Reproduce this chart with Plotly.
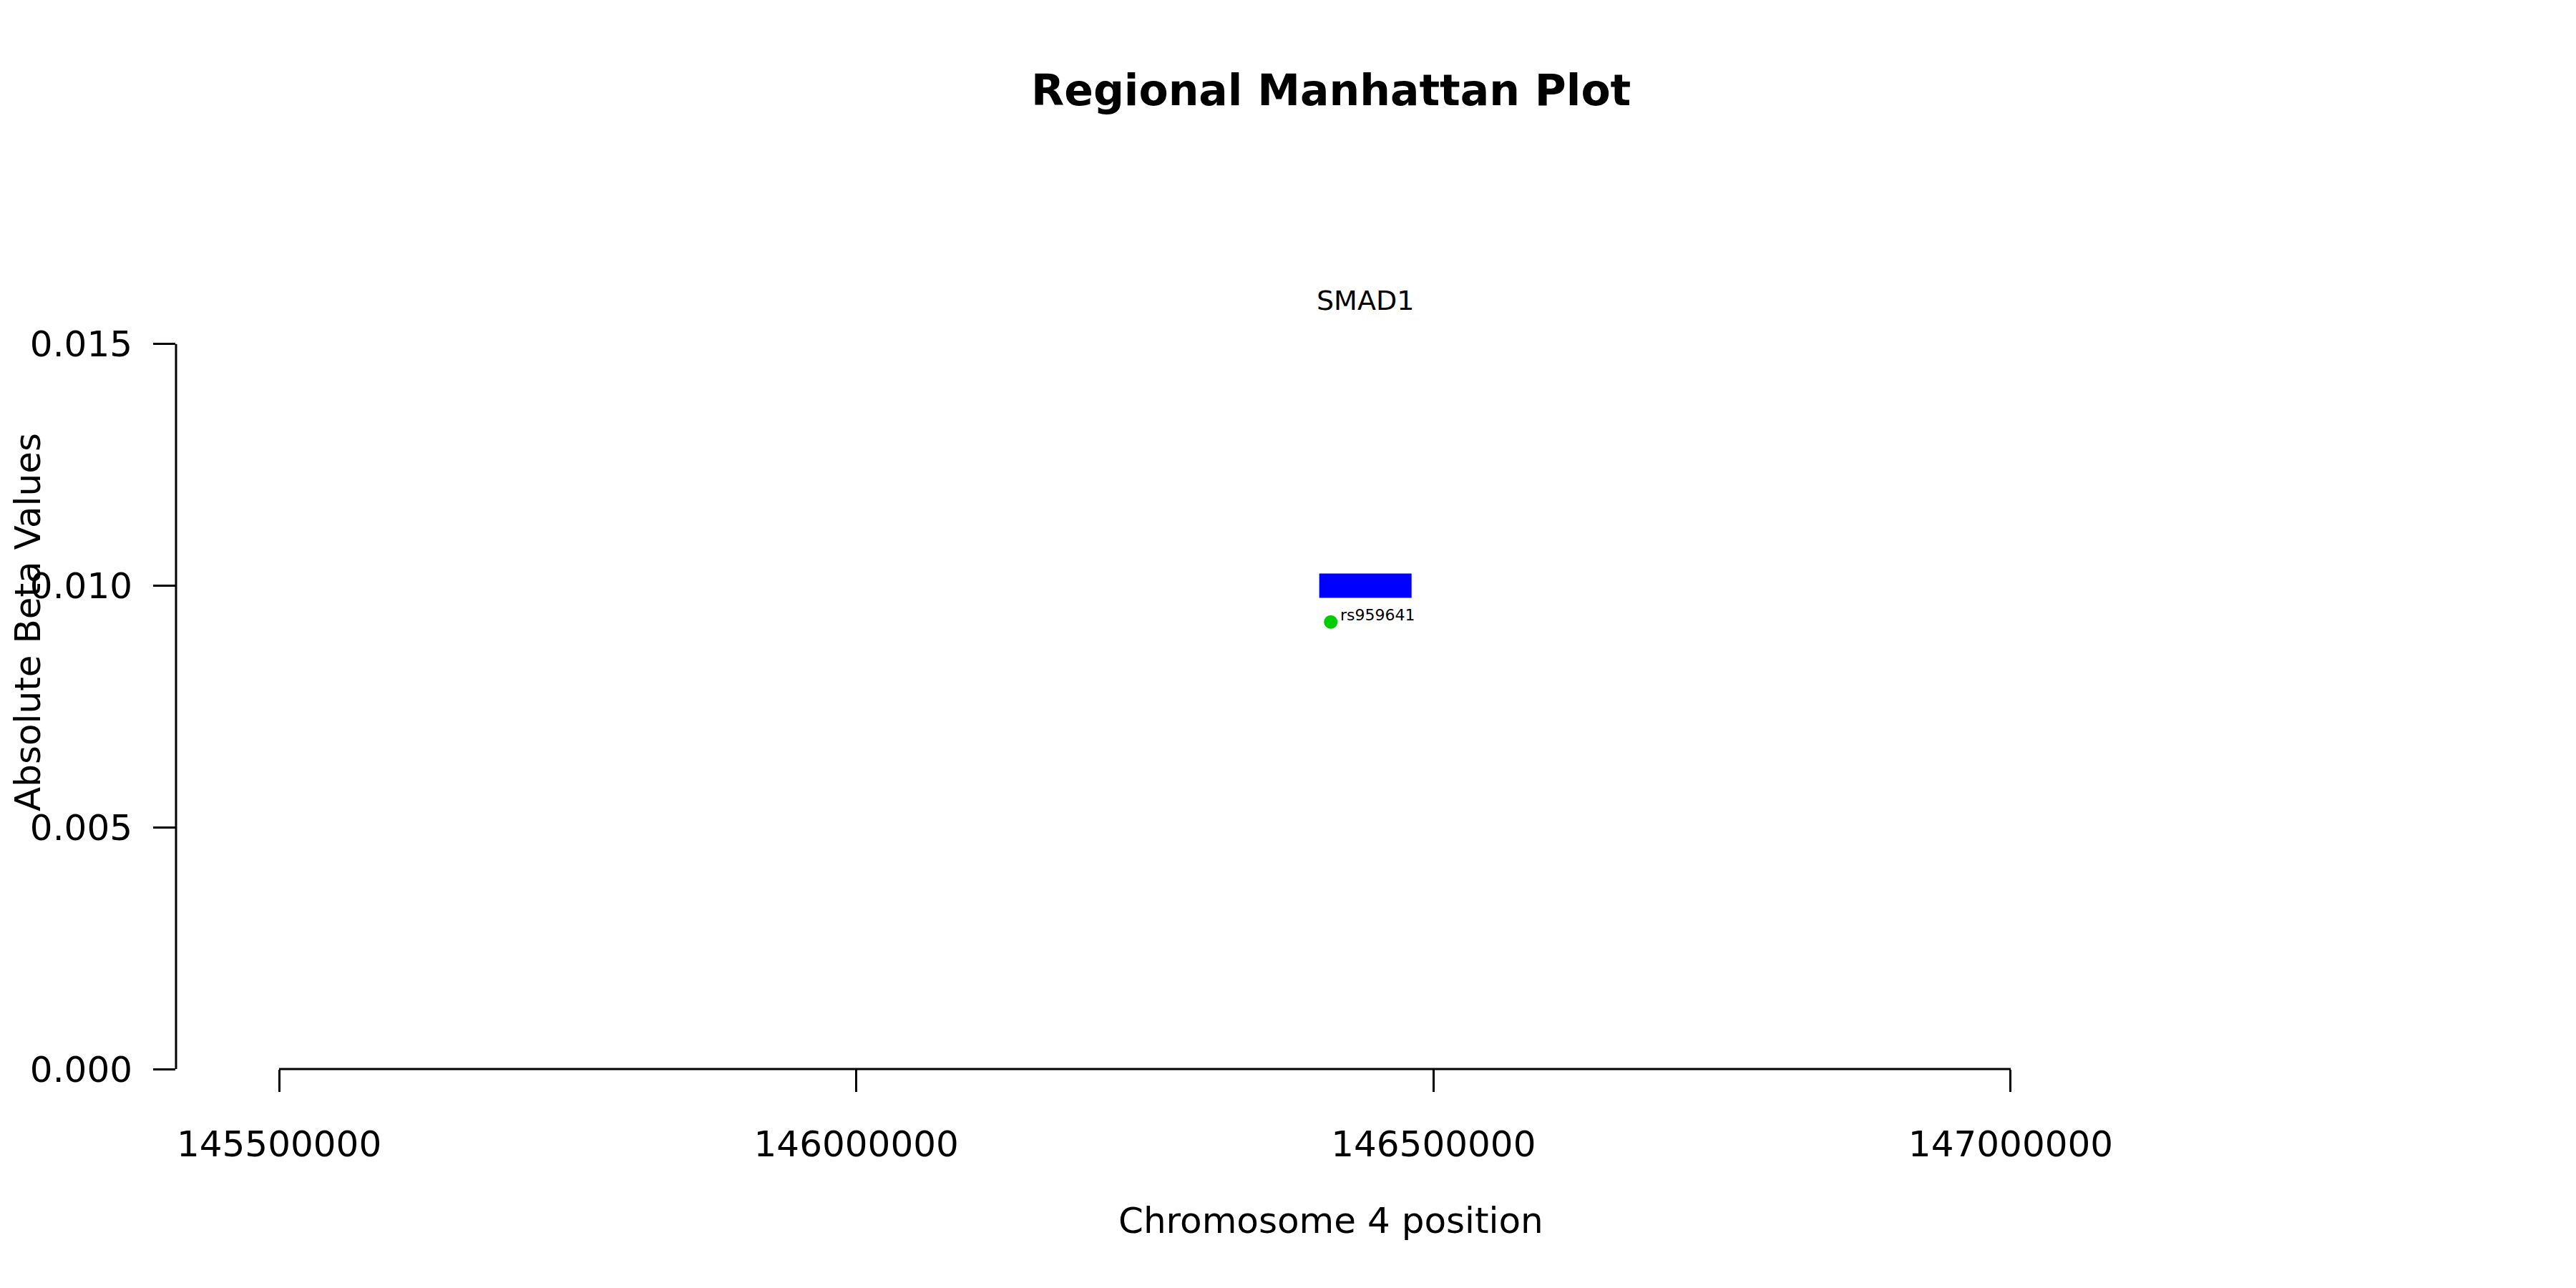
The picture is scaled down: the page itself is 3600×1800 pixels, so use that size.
import plotly.graph_objects as go

# ---- data ----
gene_names = ["SMAD1"]
gene_start = [146401000]
gene_end = [146481000]
gene_y = [0.0100]
gene_half_height = 0.00025

snp_ids = ["rs959641"]
snp_pos = [146411000]
snp_beta = [0.00925]

x_ticks = [145500000, 146000000, 146500000, 147000000]
y_ticks = [0.000, 0.005, 0.010, 0.015]
y_tick_labels = ["0.000", "0.005", "0.010", "0.015"]

x_range = [145410700, 147411600]
y_range = [0.0, 0.018475]

W, H = 3600, 1800
OFF = 8  # page body margin in the browser
left, right, top, bottom = 246 - OFF, 3474 - OFF, 246 - OFF, 1494 - OFF
FONT = "DejaVu Sans"

fig = go.Figure()

# SNP points
fig.add_trace(go.Scatter(
    x=snp_pos, y=snp_beta, mode="markers",
    marker=dict(color="#00CD00", size=19, line=dict(width=0)),
    showlegend=False, hoverinfo="skip"))

# gene rectangles
for name, s, e, gy in zip(gene_names, gene_start, gene_end, gene_y):
    fig.add_shape(type="rect", x0=s, x1=e, y0=gy - gene_half_height, y1=gy + gene_half_height,
                  xref="x", yref="y", fillcolor="#0000FF", line=dict(width=0))
    fig.add_annotation(x=(s + e) / 2, y=0.0159, xref="x", yref="y", text=name,
                       showarrow=False, font=dict(family=FONT, size=38, color="black"),
                       xanchor="center", yanchor="middle")

# SNP labels
for sid, p, b in zip(snp_ids, snp_pos, snp_beta):
    fig.add_annotation(x=p, y=b, xref="x", yref="y", text=sid, showarrow=False,
                       font=dict(family=FONT, size=22, color="black"),
                       xanchor="left", yanchor="middle", xshift=11, yshift=10)

# axis lines (R style: span first to last tick)
fig.add_shape(type="line", x0=x_ticks[0], x1=x_ticks[-1], y0=0, y1=0,
              xref="x", yref="y domain", line=dict(color="black", width=3))
fig.add_shape(type="line", x0=0, x1=0, y0=y_ticks[0], y1=y_ticks[-1],
              xref="x domain", yref="y", line=dict(color="black", width=3))

fig.update_layout(
    template="none",
    width=W, height=H,
    margin=dict(l=0, r=0, t=0, b=0),
    paper_bgcolor="white", plot_bgcolor="white",
    font=dict(family=FONT, size=50, color="black"),
    xaxis=dict(domain=[left / W, right / W], range=x_range, showgrid=False, zeroline=False,
               showline=False, automargin=False, tickmode="array", tickvals=x_ticks,
               ticktext=[str(v) for v in x_ticks],
               ticks="outside", ticklen=31, tickwidth=3, tickcolor="black",
               tickfont=dict(family=FONT, size=50), ticklabelstandoff=30),
    yaxis=dict(domain=[1 - bottom / H, 1 - top / H], range=y_range, showgrid=False, zeroline=False,
               showline=False, automargin=False, tickmode="array", tickvals=y_ticks,
               ticktext=y_tick_labels,
               ticks="outside", ticklen=31, tickwidth=3, tickcolor="black",
               tickfont=dict(family=FONT, size=50), ticklabelstandoff=19),
    annotations=list(fig.layout.annotations) + [
        dict(text="<b>Regional Manhattan Plot</b>", x=(1860 - OFF) / W, y=1 - (126 - OFF) / H,
             xref="paper", yref="paper",
             showarrow=False, font=dict(family=FONT, size=60, color="black"),
             xanchor="center", yanchor="middle"),
        dict(text="Chromosome 4 position", x=(1860 - OFF) / W, y=1 - (1706 - OFF) / H,
             xref="paper", yref="paper",
             showarrow=False, font=dict(family=FONT, size=50, color="black"),
             xanchor="center", yanchor="middle"),
        dict(text="Absolute Beta Values", x=(39 - OFF) / W, y=1 - (870 - OFF) / H,
             xref="paper", yref="paper",
             showarrow=False, textangle=-90, font=dict(family=FONT, size=50, color="black"),
             xanchor="center", yanchor="middle"),
    ],
)

fig.write_html("out.html")
